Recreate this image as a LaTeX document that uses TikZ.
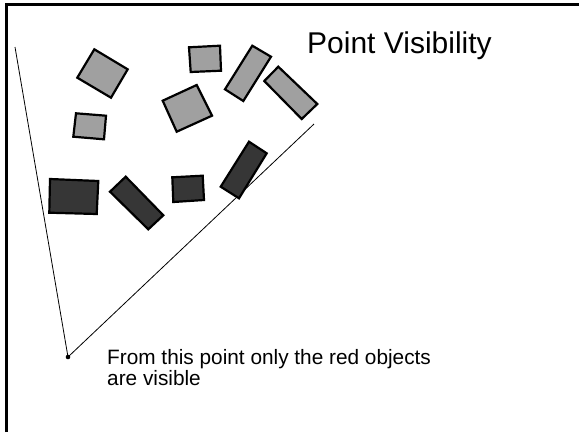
\documentclass[tikz,border=0pt]{standalone}
\usepackage{fontspec}
\setmainfont{Liberation Sans}

\definecolor{lightobj}{HTML}{A0A0A0}
\definecolor{redobj}{HTML}{363636}

\tikzset{
  obj/.style={draw=black, line width=2.2pt, line join=miter},
  sight/.style={line width=0.8pt},
}

% one block, given by its four corners
\newcommand{\Block}[5]{%
  \draw[obj, fill=#1] #2 -- #3 -- #4 -- #5 -- cycle;
}

\begin{document}
\begin{tikzpicture}[x=1pt,y=-1pt]
      \useasboundingbox (0,0) rectangle (579,432);
      \fill[white] (0,0) rectangle (579,432);
      \draw[line width=2.2pt] (6.5,432) -- (6.5,4.5) -- (579,4.5);

      \node[anchor=base west, font=\fontsize{30}{36}\selectfont, inner sep=0pt]
        (title) at (307,53) {Point Visibility};

      % viewpoint and the two sight lines
      \coordinate (eye) at (68,357);
      \coordinate (lefthit) at (15,47);
      \coordinate (righthit) at (314,124);
      \draw[sight] (lefthit) -- (eye) -- (righthit);
      \fill (eye) circle (2.3);

      % objects hidden behind the front row
      \Block{lightobj}{(94.3,49.3)}{(127.7,69.3)}{(111,97.7)}{(77.3,77.7)}
      \Block{lightobj}{(189,47.3)}{(220,45.7)}{(221,70.7)}{(190.7,72)}
      \Block{lightobj}{(252.3,45.7)}{(271,56.7)}{(243.3,101)}{(225,89.3)}
      \Block{lightobj}{(278.3,66.7)}{(317.3,104)}{(301.7,119)}{(264.3,81)}
      \Block{lightobj}{(162.7,100.7)}{(196.7,85)}{(212,115.7)}{(176.7,131.7)}
      \Block{lightobj}{(76,113.3)}{(106,115.7)}{(104,139.3)}{(73.3,136.7)}

      % front row, seen from the viewpoint
      \Block{redobj}{(50,179)}{(98.3,181)}{(96.7,214)}{(49.3,212.7)}
      \Block{redobj}{(110,191.7)}{(125.7,176.7)}{(163.3,215.3)}{(148.3,229.3)}
      \Block{redobj}{(172.3,177.3)}{(202.7,175.7)}{(204,200)}{(173.3,202)}
      \Block{redobj}{(249,141.7)}{(266.7,153.3)}{(239,198.3)}{(220.7,186.7)}

      \node[anchor=base west, align=left, inner sep=0pt,
            font=\fontsize{20.8}{19}\selectfont]
        (note) at (107,385) {From this point only the red objects\\are visible};
    \end{tikzpicture}
\end{document}
